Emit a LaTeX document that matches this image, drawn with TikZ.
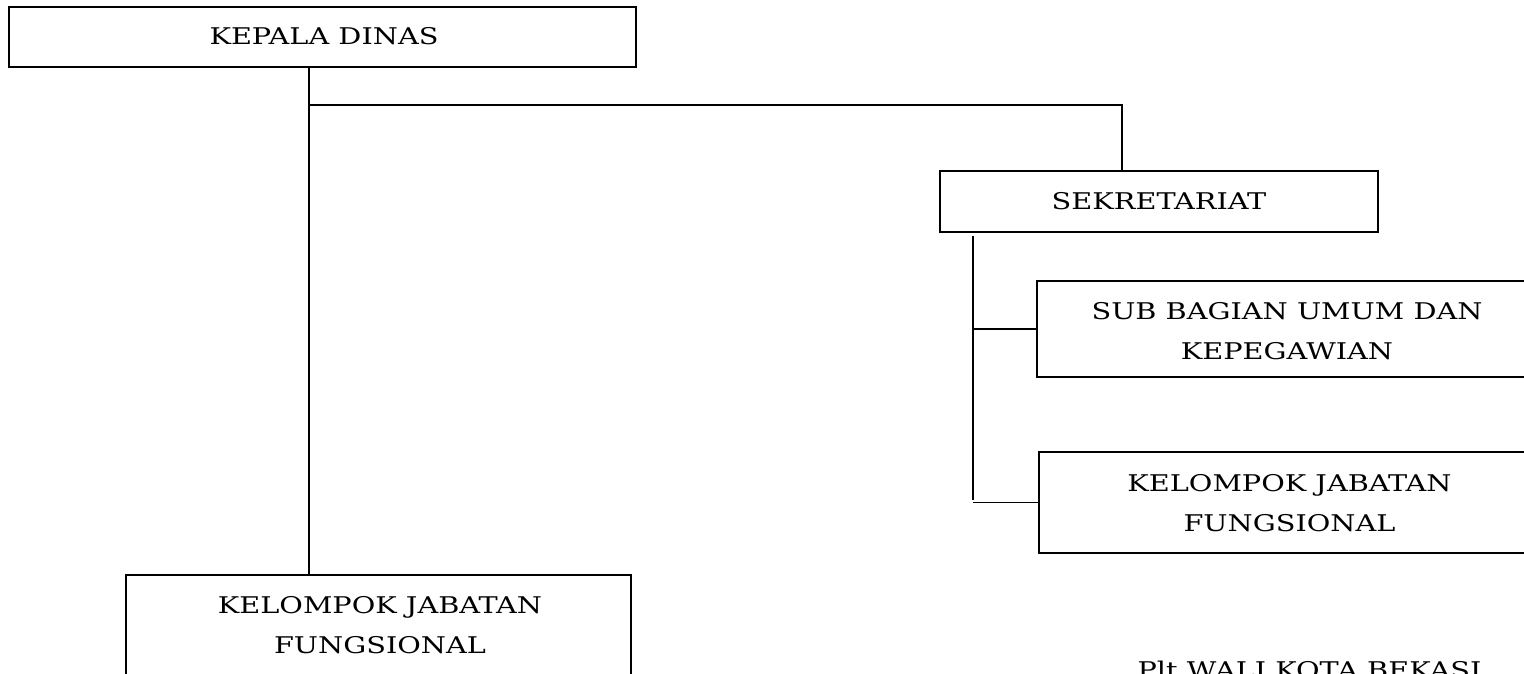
\documentclass[tikz,border=0pt]{standalone}
\usepackage{fontspec}
\setmainfont[FakeStretch=1.25]{DejaVu Serif}
\begin{document}
\begin{tikzpicture}[x=1pt,y=-1pt,
  box/.style={draw=black,line width=1.8pt,rectangle,inner sep=0pt},
  lbl/.style={align=center,font=\fontsize{23}{40}\selectfont,inner sep=0pt},
  conn/.style={draw=black,line width=1.8pt}]
\useasboundingbox (0,0) rectangle (1524,673);
\clip (0,0) rectangle (1524,673);
% boxes
\node[box,minimum width=627pt,minimum height=60pt] (kd) at (322.5,37) {};
\node[lbl] (kdT) at (324,36) {KEPALA DINAS};
\node[box,minimum width=438pt,minimum height=61pt] (sek) at (1159,201.5) {};
\node[lbl] (sekT) at (1159,201.5) {SEKRETARIAT};
\node[box,minimum width=500pt,minimum height=96pt] (sub) at (1287,329) {};
\node[lbl] (subT) at (1287,331) {SUB BAGIAN UMUM DAN\\KEPEGAWIAN};
\node[box,minimum width=501pt,minimum height=101pt] (kr) at (1289.5,502.5) {};
\node[lbl] (krT) at (1289.5,503) {KELOMPOK JABATAN\\FUNGSIONAL};
\node[box,minimum width=505pt,minimum height=101pt] (kl) at (378.5,625.5) {};
\node[lbl] (klT) at (380,625.5) {KELOMPOK JABATAN\\FUNGSIONAL};
\node[lbl,anchor=base] (plt) at (1309.5,678) {Plt WALI KOTA BEKASI};
% connectors
\coordinate (j1) at (309,105);
\coordinate (j2) at (1122,105);
\coordinate (s1) at (973,236);
\coordinate (s2) at (973,500);
\draw[conn] (j1 |- kd.south) -- (j1 |- kl.north);
\draw[conn] (j1) -- (j2) -- (j2 |- sek.north);
\draw[conn] (s1) -- (s2);
\draw[conn] (s1 |- sub.west) -- (sub.west);
\draw[conn] (s1 |- kr.west) -- (kr.west);
\end{tikzpicture}
\end{document}
